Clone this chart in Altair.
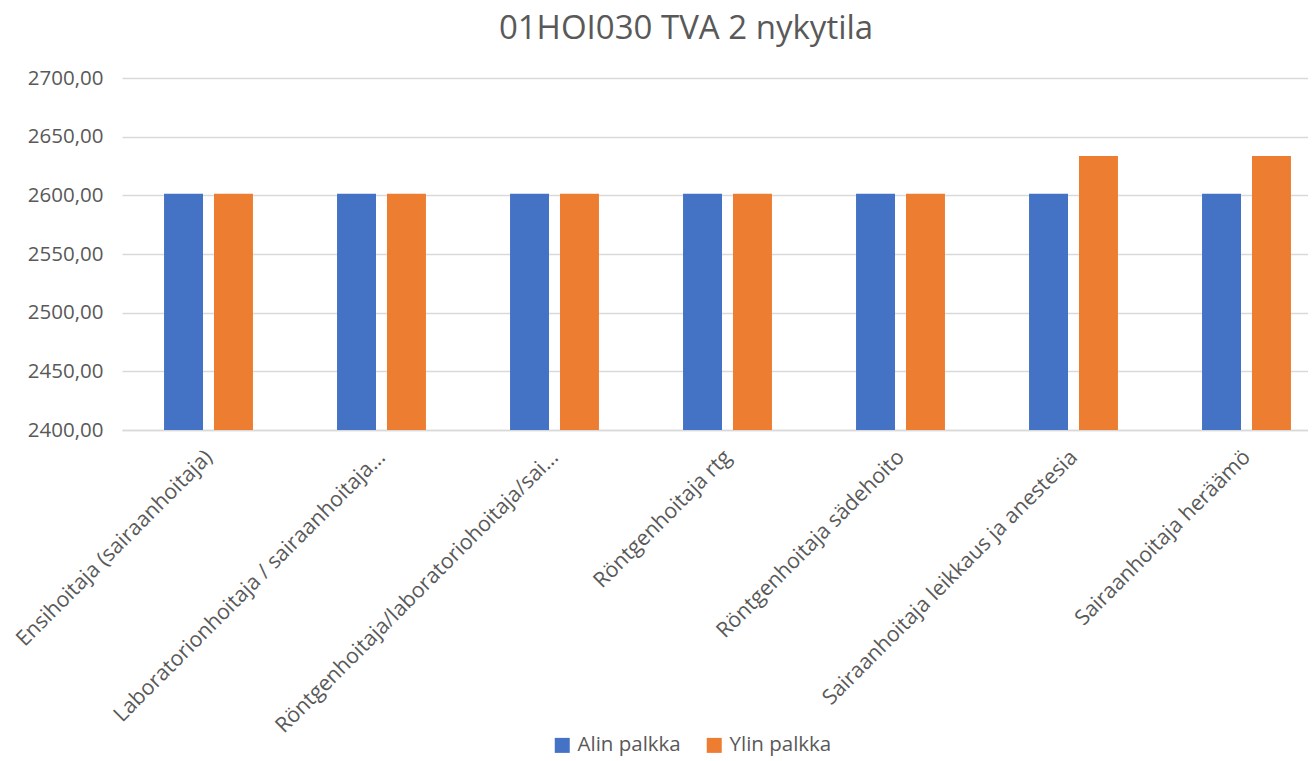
import altair as alt
import pandas as pd

categories = [
    "Ensihoitaja (sairaanhoitaja)",
    "Laboratorionhoitaja / sairaanhoitaja...",
    "Röntgenhoitaja/laboratoriohoitaja/sai...",
    "Röntgenhoitaja rtg",
    "Röntgenhoitaja sädehoito",
    "Sairaanhoitaja leikkaus ja anestesia",
    "Sairaanhoitaja heräämö",
]
alin = [2601.4, 2601.4, 2601.4, 2601.4, 2601.4, 2601.4, 2601.4]
ylin = [2601.4, 2601.4, 2601.4, 2601.4, 2601.4, 2633.6, 2633.6]
series = ["Alin palkka", "Ylin palkka"]
colors = ["#4472C4", "#ED7D31"]
y_ticks = [2400, 2450, 2500, 2550, 2600, 2650, 2700]

rows = []
for c, a, y in zip(categories, alin, ylin):
    rows.append({"cat": c, "series": series[0], "value": a})
    rows.append({"cat": c, "series": series[1], "value": y})
df = pd.DataFrame(rows)

FONT = "Open Sans"
GRAY = "#595959"

chart = alt.Chart(df).mark_bar().encode(
    x=alt.X("cat:N", sort=categories, title=None,
            scale=alt.Scale(paddingInner=0.486, paddingOuter=0.243, range=[0, 1211]),
            axis=alt.Axis(labelAngle=-45, labelFontSize=21.3, labelColor=GRAY,
                          labelFont=FONT, ticks=False, domain=True,
                          domainColor="#d9d9d9", domainWidth=1.5,
                          labelPadding=16, labelOffset=-7, labelLimit=0)),
    xOffset=alt.XOffset("series:N", sort=series,
                        scale=alt.Scale(paddingInner=0.22, paddingOuter=0)),
    y=alt.Y("value:Q", title=None,
            scale=alt.Scale(domain=[2400, 2700], zero=False, clamp=True, nice=False),
            axis=alt.Axis(values=y_ticks, labelExpr="replace(format(datum.value, '.2f'), '.', ',')",
                          labelFontSize=20.5, labelColor=GRAY, labelFont=FONT,
                          ticks=False, domain=False, gridColor="#d9d9d9", gridWidth=1.5,
                          labelPadding=19)),
    y2=alt.datum(2400),
    color=alt.Color("series:N", sort=series,
                    scale=alt.Scale(domain=series, range=colors),
                    legend=alt.Legend(title=None, orient="none", direction="horizontal",
                                      legendX=430, legendY=657,
                                      symbolType="square",
                                      symbolSize=225, symbolStrokeWidth=0,
                                      labelFontSize=20.5, labelColor=GRAY, labelFont=FONT,
                                      labelOffset=5, columnPadding=23, symbolOpacity=1)),
).properties(
    width=1186,
    height=352,
    title=alt.TitleParams("01HOI030 TVA 2 nykytila", fontSize=33, font=FONT,
                          fontWeight="normal", color=GRAY, offset=22, dx=-29,
                          frame="group", anchor="middle"),
    autosize=alt.AutoSizeParams(type="none"),
    padding={"left": 114, "top": 70, "right": 0, "bottom": 330},
).configure_view(stroke=None)

chart.save("out.html", embed_options={"renderer": "svg", "actions": False})
